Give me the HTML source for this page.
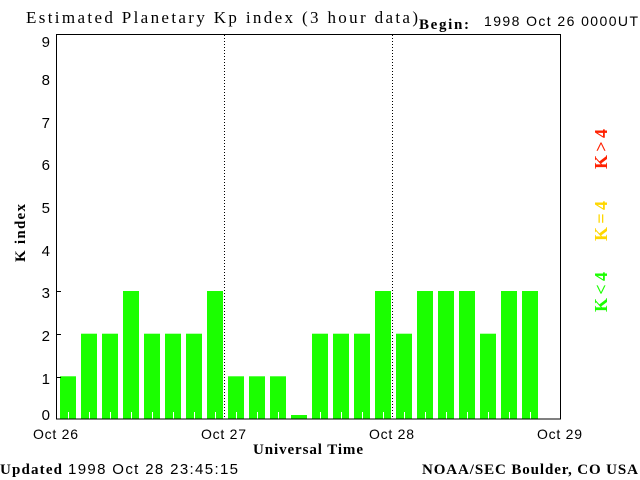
<!DOCTYPE html>
<html><head><meta charset="utf-8"><style>body{margin:0;background:#fff}svg{display:block}</style></head><body>
<svg width="640" height="480" xmlns="http://www.w3.org/2000/svg">
<rect width="640" height="480" fill="#fff"/>
<g fill="#1bff00">
<rect x="60" y="376.3" width="16" height="42.7"/>
<rect x="81" y="333.7" width="16" height="85.3"/>
<rect x="102" y="333.7" width="16" height="85.3"/>
<rect x="123" y="291" width="16" height="128"/>
<rect x="144" y="333.7" width="16" height="85.3"/>
<rect x="165" y="333.7" width="16" height="85.3"/>
<rect x="186" y="333.7" width="16" height="85.3"/>
<rect x="207" y="291" width="16" height="128"/>
<rect x="228" y="376.3" width="16" height="42.7"/>
<rect x="249" y="376.3" width="16" height="42.7"/>
<rect x="270" y="376.3" width="16" height="42.7"/>
<rect x="291" y="415" width="16" height="4"/>
<rect x="312" y="333.7" width="16" height="85.3"/>
<rect x="333" y="333.7" width="16" height="85.3"/>
<rect x="354" y="333.7" width="16" height="85.3"/>
<rect x="375" y="291" width="16" height="128"/>
<rect x="396" y="333.7" width="16" height="85.3"/>
<rect x="417" y="291" width="16" height="128"/>
<rect x="438" y="291" width="16" height="128"/>
<rect x="459" y="291" width="16" height="128"/>
<rect x="480" y="333.7" width="16" height="85.3"/>
<rect x="501" y="291" width="16" height="128"/>
<rect x="522" y="291" width="16" height="128"/>
</g>
<g stroke="#fff" stroke-width="1">
<path d="M68.5 412V419M89.5 412V419M110.5 412V419M131.5 412V419M152.5 412V419M173.5 412V419M194.5 412V419M215.5 412V419M236.5 412V419M257.5 412V419M278.5 412V419M320.5 412V419M341.5 412V419M362.5 412V419M383.5 412V419M404.5 412V419M425.5 412V419M446.5 412V419M467.5 412V419M488.5 412V419M509.5 412V419M530.5 412V419"/>
</g>
<g stroke="#000" stroke-width="1" stroke-dasharray="1,2">
<path d="M224.5 35V419M392.5 35V419"/>
</g>
<rect x="56.5" y="34.5" width="504" height="384.5" fill="none" stroke="#000"/>
<g stroke="#000"><path d="M56 291.5h5M56 334.5h5M56 377.5h5"/></g>
<g font-family="Liberation Sans, sans-serif" font-size="15" fill="#000" text-anchor="end">
<text x="50" y="420">0</text><text x="50" y="384">1</text><text x="50" y="341">2</text><text x="50" y="298">3</text><text x="50" y="256">4</text><text x="50" y="213">5</text><text x="50" y="170">6</text><text x="50" y="128">7</text><text x="50" y="85">8</text><text x="50" y="47">9</text>
</g>
<g font-family="Liberation Sans, sans-serif" font-size="14" fill="#000">
<text x="33" y="439" textLength="45">Oct 26</text><text x="201" y="439" textLength="45">Oct 27</text><text x="369" y="439" textLength="45">Oct 28</text><text x="537" y="439" textLength="45">Oct 29</text>
</g>
<g font-family="Liberation Serif, serif" font-weight="bold" font-size="15" fill="#000">
<text x="253" y="454" textLength="110">Universal Time</text>
<text x="422" y="474" textLength="216">NOAA/SEC Boulder, CO USA</text>
<text x="0" y="474" textLength="62">Updated</text>
<text transform="translate(25,262) rotate(-90)" textLength="58">K index</text>
</g>
<text x="26" y="23" font-family="Liberation Serif, serif" font-size="17" fill="#000" textLength="392">Estimated Planetary Kp index (3 hour data)</text>
<text x="419" y="29" font-family="Liberation Serif, serif" font-weight="bold" font-size="15" fill="#000" textLength="50">Begin:</text>
<text x="484" y="26" font-family="Liberation Sans, sans-serif" font-size="14" fill="#000" textLength="154">1998 Oct 26 0000UT</text>
<text x="68" y="474" font-family="Liberation Sans, sans-serif" font-size="15" fill="#000" textLength="170">1998 Oct 28 23:45:15</text>
<g font-family="Liberation Serif, serif" font-weight="bold" font-size="18">
<text transform="translate(607,312) rotate(-90)" fill="#1bff00" textLength="40">K&lt;4</text>
<text transform="translate(607,241) rotate(-90)" fill="#ffd700" textLength="40">K=4</text>
<text transform="translate(607,169) rotate(-90)" fill="#ff2000" textLength="40">K&gt;4</text>
</g>
</svg>
</body></html>
